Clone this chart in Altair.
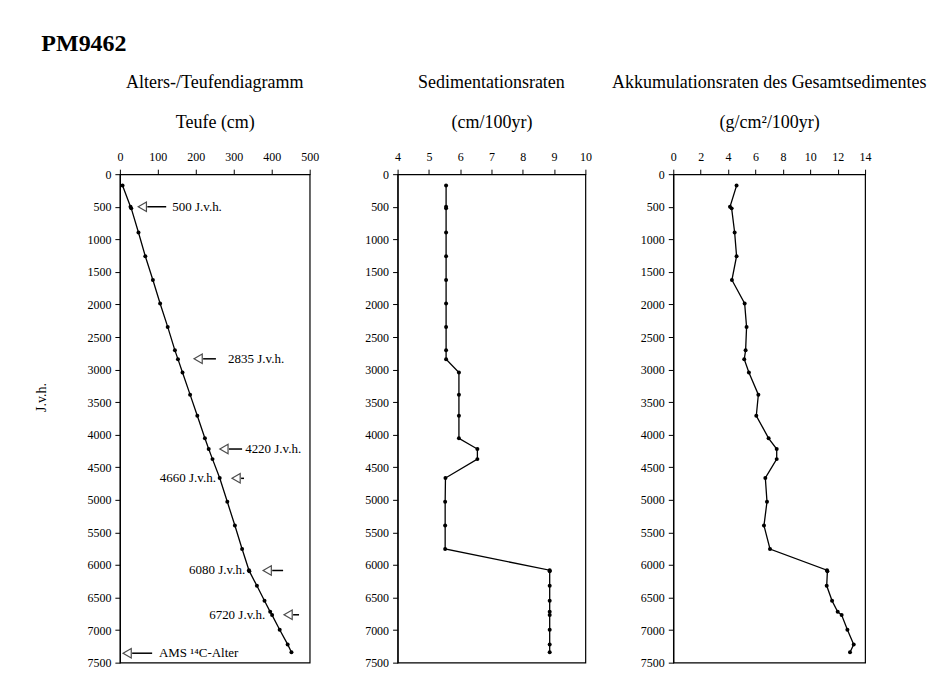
import altair as alt
import pandas as pd

FONT = "Liberation Serif"

# Shared sample ages (J.v.h.)
ages = [175, 500, 525, 895, 1260, 1625, 1985, 2345, 2705, 2840, 3045, 3385, 3710,
        4055, 4220, 4375, 4665, 5030, 5395, 5755, 6080, 6095, 6320, 6550, 6720,
        6770, 6995, 7220, 7340]
# Panel 1: depth (cm)
depth_cm = [7, 28, 30, 49, 67, 87, 106, 126, 145, 153, 165, 185, 204,
            224, 234, 244, 263, 283, 303, 322, 340, 341, 361, 381, 396,
            401, 421, 442, 452]
# Panel 2: sedimentation rate (cm/100yr)
sed_rate = [5.55, 5.55, 5.55, 5.55, 5.55, 5.55, 5.55, 5.55, 5.55, 5.55, 5.96, 5.96, 5.96,
            5.96, 6.55, 6.55, 5.53, 5.52, 5.52, 5.52, 8.86, 8.86, 8.86, 8.86, 8.86,
            8.86, 8.86, 8.86, 8.86]
# Panel 3: accumulation rate (g/cm2/100yr)
acc_rate = [4.62, 4.14, 4.26, 4.48, 4.62, 4.28, 5.21, 5.35, 5.28, 5.18, 5.52, 6.21, 6.06,
            6.96, 7.55, 7.55, 6.72, 6.84, 6.62, 7.06, 11.22, 11.25, 11.2, 11.59, 12.0,
            12.29, 12.71, 13.17, 12.9]

# Age-control annotations (panel 1), positions in data units
ann_text = ["500 J.v.h.", "2835 J.v.h.", "4220 J.v.h.", "4660 J.v.h.", "6080 J.v.h.",
            "6720 J.v.h.", "AMS \u00b9\u2074C-Alter"]
ann_age = [500, 2835, 4220, 4670, 6085, 6765, 7355]
ann_tip = [46, 193, 261, 293, 375, 430, 6]
ann_tail = [122, 253, 322, 327, 430, 472, 85]
ann_label_x = [138, 285, 330, 253, 330, 383, 103]
ann_align = ["left", "left", "left", "right", "right", "right", "left"]

y_ticks = list(range(0, 7501, 500))
depth_ticks = [0, 100, 200, 300, 400, 500]
sed_ticks = [4, 5, 6, 7, 8, 9, 10]
acc_ticks = [0, 2, 4, 6, 8, 10, 12, 14]

df = pd.DataFrame({"age": ages, "depth": depth_cm, "sed": sed_rate, "acc": acc_rate})
ann = pd.DataFrame({"text": ann_text, "age": ann_age, "tip": ann_tip, "tail": ann_tail,
                    "lx": ann_label_x, "align": ann_align})

H = 489

Y_SCALE = alt.Scale(domain=[0, 7500], reverse=True, nice=False, zero=False)


def y_axis(title=None):
    ax = dict(values=y_ticks, format="d", tickSize=5, labelOverlap=False, labelFlush=False)
    if title:
        ax.update(title=title, titleFontSize=14, titlePadding=38, titleY=223)
    else:
        ax.update(title=None)
    return alt.Axis(**ax)


def x_axis(ticks, title):
    return alt.Axis(orient="top", values=ticks, format="d", title=title,
                    titlePadding=19, labelPadding=6, labelOverlap=False, labelFlush=False)


def panel(field, domain, ticks, xtitle, title, width, ytitle=None, extra=None):
    xs = alt.Scale(domain=domain, nice=False, zero=False)
    x = alt.X(f"{field}:Q", scale=xs, axis=x_axis(ticks, xtitle))
    y = alt.Y("age:Q", scale=Y_SCALE, axis=y_axis(ytitle))
    base = alt.Chart(df)
    line = base.mark_line(color="black", strokeWidth=1.3).encode(x=x, y=y, order="age:Q")
    pts = base.mark_circle(color="black", size=16, opacity=1).encode(x=x, y=y)
    layers = [line, pts]
    if extra:
        layers += extra(xs, ticks, xtitle, ytitle)
    return alt.layer(*layers).properties(
        width=width, height=H,
        title=alt.TitleParams(title, fontSize=18, font=FONT, fontWeight="normal",
                              offset=21, anchor="middle", color="black"))


def annotations(xs, ticks, xtitle, ytitle):
    ab = alt.Chart(ann)
    xax = x_axis(ticks, xtitle)
    yenc = alt.Y("age:Q", scale=Y_SCALE, axis=y_axis(ytitle))
    heads = ab.mark_point(shape="triangle-left", filled=False, stroke="black",
                          strokeWidth=1.2, size=90, xOffset=5).encode(
        x=alt.X("tip:Q", scale=xs, axis=xax), y=yenc)
    tails = ab.mark_rule(color="black", strokeWidth=1.5, xOffset=10).encode(
        x=alt.X("tip:Q", scale=xs, axis=xax), x2="tail:Q", y=yenc)
    lab_left = ab.transform_filter(alt.datum.align == "left").mark_text(
        align="left", baseline="middle", font=FONT, fontSize=13, color="black").encode(
        x=alt.X("lx:Q", scale=xs, axis=xax), y=yenc, text="text:N")
    lab_right = ab.transform_filter(alt.datum.align == "right").mark_text(
        align="right", baseline="middle", font=FONT, fontSize=13, color="black").encode(
        x=alt.X("lx:Q", scale=xs, axis=xax), y=yenc, text="text:N")
    return [heads, tails, lab_left, lab_right]


p1 = panel("depth", [0, 500], depth_ticks, "Teufe (cm)",
           "Alters-/Teufendiagramm", 190, ytitle="J.v.h.", extra=annotations)
p2 = panel("sed", [4, 10], sed_ticks, "(cm/100yr)",
           "Sedimentationsraten", 188)
p3 = panel("acc", [0, 14], acc_ticks, "(g/cm\u00b2/100yr)",
           "Akkumulationsraten des Gesamtsedimentes", 192)

chart = alt.hconcat(p1, p2, p3, spacing=88, bounds="flush").properties(
    title=alt.TitleParams("PM9462", anchor="start", fontSize=24, font=FONT,
                          fontWeight="bold", color="black", offset=18, dx=7),
    background="white",
    padding={"left": 26, "top": 23, "right": 5, "bottom": 5},
).configure_axis(
    domainColor="black", tickColor="black", labelColor="black", labelFont=FONT,
    labelFontSize=12, tickSize=5, labelPadding=4, grid=False, titleFont=FONT,
    titleFontSize=18, titleFontWeight="normal", titleColor="black", domainWidth=1.2,
).configure_view(stroke="black", strokeWidth=1.2)

chart.save("out.html", embed_options={"renderer": "svg", "actions": False})
